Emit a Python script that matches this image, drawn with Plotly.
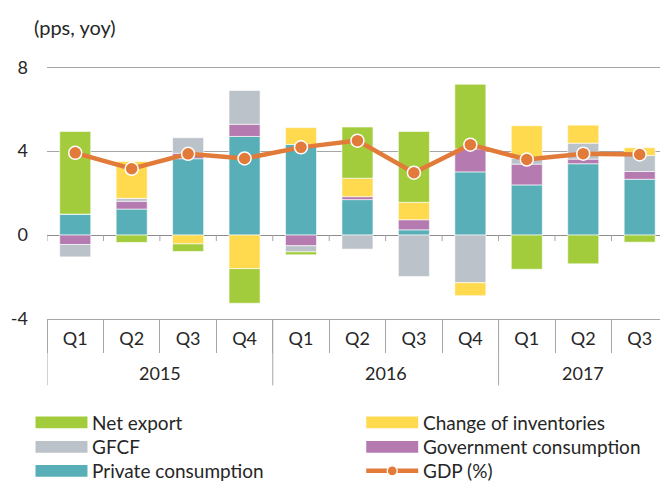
import plotly.graph_objects as go

years = ["2015"] * 4 + ["2016"] * 4 + ["2017"] * 3
quarters = ["Q1", "Q2", "Q3", "Q4", "Q1", "Q2", "Q3", "Q4", "Q1", "Q2", "Q3"]

private_consumption = [1.00, 1.24, 3.64, 4.70, 4.32, 1.69, 0.25, 3.01, 2.39, 3.40, 2.66]
government_consumption = [-0.45, 0.37, 0.26, 0.58, -0.51, 0.14, 0.48, 1.10, 0.99, 0.22, 0.37]
gfcf = [-0.59, 0.14, 0.74, 1.61, -0.29, -0.67, -1.98, -2.27, 0.28, 0.76, 0.76]
change_of_inventories = [0.00, 1.76, -0.42, -1.60, 0.80, 0.88, 0.83, -0.62, 1.55, 0.86, 0.37]
net_export = [3.94, -0.35, -0.36, -1.65, -0.14, 2.44, 3.38, 3.08, -1.63, -1.37, -0.34]
gdp = [3.92, 3.16, 3.87, 3.65, 4.18, 4.50, 2.97, 4.31, 3.60, 3.88, 3.84]

series = [
    ("Private consumption", private_consumption, "#59AFB8"),
    ("Government consumption", government_consumption, "#B57BB1"),
    ("GFCF", gfcf, "#BBC2C9"),
    ("Change of inventories", change_of_inventories, "#FFDA4F"),
    ("Net export", net_export, "#A3CC3C"),
]
gdp_name = "GDP (%)"
gdp_color = "#E27A3A"

FONT = "Lato"
TXT = "#262626"
GRID = "#A6A6A6"

# layout geometry (pixels)
W, H = 660, 483
L, R, T, B = 46.5, 0, 62.5, 164.4
PW = W - L - R
PH = H - T - B
YMIN, YMAX = -4, 8.2

cats = [f"{y} {q}" for y, q in zip(years, quarters)]
n = len(cats)

fig = go.Figure()
for name, vals, col in series:
    fig.add_trace(go.Bar(
        x=cats, y=vals, name=name, marker_color=col,
        marker_line=dict(color="rgba(255,255,255,0.75)", width=0.8),
        showlegend=False,
    ))
fig.add_trace(go.Scatter(
    x=cats, y=gdp, name=gdp_name, mode="lines+markers",
    line=dict(color=gdp_color, width=4.5),
    marker=dict(size=13, color=gdp_color, line=dict(color="white", width=1.5)),
    showlegend=False,
))

def px2x(px):
    return (px - L) / PW

def py2y(py):
    return (H - B - py) / PH

shapes = []
# small ticks at the zero line between categories
for i in range(n + 1):
    shapes.append(dict(type="line", xref="x", yref="y", ysizemode="pixel", yanchor=0,
                       x0=i - 0.5, x1=i - 0.5, y0=0, y1=-6,
                       line=dict(color=GRID, width=1)))

annotations = [dict(text="(pps, yoy)", xref="paper", yref="paper",
                    x=px2x(31), y=py2y(26), xanchor="left", yanchor="middle",
                    showarrow=False, font=dict(family=FONT, size=20, color=TXT))]

# year group labels and dividers
groups = []
for i, y in enumerate(years):
    if not groups or groups[-1][0] != y:
        groups.append([y, i, i])
    else:
        groups[-1][2] = i
for y, i0, i1 in groups:
    annotations.append(dict(text=y, xref="x", yref="paper", x=(i0 + i1) / 2, y=py2y(373),
                            xanchor="center", yanchor="middle", showarrow=False,
                            font=dict(family=FONT, size=18, color=TXT)))
    shapes.append(dict(type="line", xref="x", yref="paper", x0=i0 - 0.5, x1=i0 - 0.5,
                       y0=0, y1=py2y(385), line=dict(color=GRID, width=1)))

# manual legend (two columns)
legend_order = ["Net export", "Change of inventories", "GFCF", "Government consumption",
                "Private consumption", gdp_name]
colors = {name: col for name, _, col in series}
col_x = [35, 366]
row_y = [422, 446.5, 470.5]
for k, name in enumerate(legend_order):
    cx = col_x[k % 2]
    cy = row_y[k // 2]
    if name == gdp_name:
        shapes.append(dict(type="line", xref="paper", yref="paper",
                           x0=px2x(cx), x1=px2x(cx + 52), y0=py2y(cy), y1=py2y(cy),
                           line=dict(color=gdp_color, width=4.5)))
        shapes.append(dict(type="circle", xref="paper", yref="paper",
                           x0=px2x(cx + 26 - 5), x1=px2x(cx + 26 + 5),
                           y0=py2y(cy + 5), y1=py2y(cy - 5),
                           fillcolor=gdp_color, line=dict(color="white", width=1.2)))
    else:
        shapes.append(dict(type="rect", xref="paper", yref="paper",
                           x0=px2x(cx), x1=px2x(cx + 52), y0=py2y(cy + 5.8), y1=py2y(cy - 5.8),
                           fillcolor=colors[name], line=dict(width=0)))
    annotations.append(dict(text=name, xref="paper", yref="paper",
                            x=px2x(cx + 56), y=py2y(cy), xanchor="left", yanchor="middle",
                            borderpad=0,
                            showarrow=False, font=dict(family=FONT, size=19, color=TXT)))

fig.update_layout(
    width=W, height=H,
    margin=dict(l=L, r=R, t=T, b=B, pad=0),
    paper_bgcolor="white", plot_bgcolor="white",
    barmode="relative", bargap=0.45,
    font=dict(family=FONT, size=18, color=TXT),
    showlegend=False,
    shapes=shapes, annotations=annotations,
)
fig.update_xaxes(
    type="category", range=[-0.5, 10.36],
    tickvals=cats, ticktext=quarters,
    showline=True, linecolor=GRID, linewidth=1,
    ticks="outside", tickson="boundaries", ticklen=33, tickcolor=GRID,
    ticklabelstandoff=3,
    showgrid=False, tickfont=dict(family=FONT, size=18, color=TXT),
)
fig.update_yaxes(
    range=[YMIN, YMAX], tickvals=[-4, 0, 4, 8], ticktext=["-4", "0", "4", "8"],
    showgrid=True, gridcolor=GRID, gridwidth=1,
    zeroline=True, zerolinecolor="#8C8C8C", zerolinewidth=1.2,
    ticks="", ticklabelstandoff=18, showline=False,
    tickfont=dict(family=FONT, size=18, color=TXT),
)

fig.write_html("out.html", config={"displayModeBar": False},
               post_script="document.body.style.margin='0';")
